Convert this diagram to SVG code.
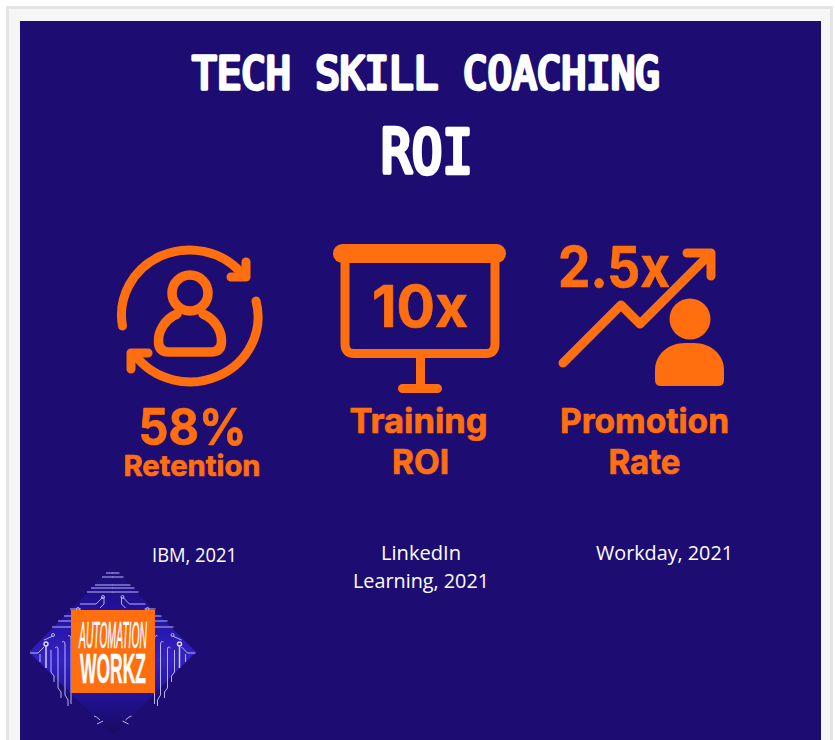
<svg xmlns="http://www.w3.org/2000/svg" width="835" height="740" viewBox="0 0 835 740">
<defs>
<linearGradient id="dia" x1="0" y1="0" x2="0" y2="1">
<stop offset="0" stop-color="#1d0d73"/>
<stop offset=".28" stop-color="#2312a0"/>
<stop offset=".55" stop-color="#3322c4"/>
<stop offset=".8" stop-color="#20108c"/>
<stop offset="1" stop-color="#190b60"/>
</linearGradient>
</defs>
<style>
.o{fill:none;stroke:#ff6f0f;stroke-linecap:round;stroke-linejoin:round}
.f{fill:#ff6f0f}
.t{font-family:"Inter","Liberation Sans",sans-serif;font-weight:700;fill:#ff6f0f;stroke:#ff6f0f;stroke-width:.7;stroke-linejoin:round;text-anchor:middle}
.h{font-family:"DejaVu Sans Mono",monospace;fill:#fff;stroke:#fff;stroke-linejoin:round;stroke-linecap:round;text-anchor:middle}
.c{font-family:"Open Sans","Liberation Sans",sans-serif;font-size:20px;fill:#fff;text-anchor:middle}
.l{fill:none;stroke:#b9b4f2;stroke-width:1}
.d{fill:none;stroke:#dcd9fb;stroke-width:1.4}
</style>
<rect width="835" height="740" fill="#fff"/>
<rect x="7.5" y="7.5" width="824" height="740" fill="#f6f6f6" stroke="#e4e4e4" stroke-width="3"/>
<rect x="20" y="21" width="801" height="719" fill="#1d0d73"/>
<g id="title">
<text class="h" x="426" y="89" font-size="44" stroke-width="3.500" textLength="468" lengthAdjust="spacingAndGlyphs">TECH SKILL COACHING</text>
<text class="h" x="427" y="173" font-size="60" stroke-width="4.500" textLength="92" lengthAdjust="spacingAndGlyphs">ROI</text>
</g>
<g id="retention">
<path class="o" stroke-width="9" d="M122.500 326A68 65 0 0 1 241 272.500"/>
<path class="o" stroke-width="9" d="M246 262V277H231"/>
<path class="o" stroke-width="9" d="M256 301A68 65 0 0 1 135 355"/>
<path class="o" stroke-width="9" d="M131 369V353H148"/>
<circle class="o" stroke-width="9.500" cx="190" cy="293" r="18"/>
<path class="o" stroke-width="9.500" d="M177 314C165 319 158 331 158.500 342Q159 352 169 352H211Q221 352 221.500 342C222 331 215 319 203 314"/>
<text class="t" x="192.500" y="445" font-size="51" textLength="108" lengthAdjust="spacingAndGlyphs">58%</text>
<text class="t" x="192" y="476" font-size="29" textLength="137" lengthAdjust="spacingAndGlyphs">Retention</text>
</g>
<g id="training">
<rect class="f" x="333" y="244" width="173" height="19" rx="9.500"/>
<path class="o" stroke-width="9" d="M345 258V344Q345 353.500 354 353.500H486Q495 353.500 495 344V258"/>
<path class="o" stroke-width="9" d="M420.500 354V388.500M402.500 388.500H437.500"/>
<text class="t" x="420" y="327" font-size="58" textLength="96" lengthAdjust="spacingAndGlyphs">10x</text>
<text class="t" x="418.500" y="433" font-size="34" textLength="138" lengthAdjust="spacingAndGlyphs">Training</text>
<text class="t" x="420.500" y="474" font-size="34" textLength="57" lengthAdjust="spacingAndGlyphs">ROI</text>
</g>
<g id="promotion">
<path class="o" stroke-width="9" d="M563 363L621 305L640 324L710 254"/>
<path class="o" stroke-width="9" d="M687 253H711V276"/>
<circle class="f" cx="690" cy="319" r="20.500"/>
<path class="f" d="M655 380V370C655 354 669 343 685 343H694C710 343 724 354 724 370V380Q724 386 718 386H661Q655 386 655 380Z"/>
<text class="t" x="614" y="287" font-size="56" textLength="112" lengthAdjust="spacingAndGlyphs">2.5x</text>
<text class="t" x="644.500" y="433" font-size="34" textLength="169" lengthAdjust="spacingAndGlyphs">Promotion</text>
<text class="t" x="644.500" y="474" font-size="34" textLength="72" lengthAdjust="spacingAndGlyphs">Rate</text>
</g>
<g id="sources">
<text class="c" x="194.500" y="562" textLength="85" lengthAdjust="spacingAndGlyphs">IBM, 2021</text>
<text class="c" x="421" y="560" textLength="80" lengthAdjust="spacingAndGlyphs">LinkedIn</text>
<text class="c" x="421" y="588" textLength="136" lengthAdjust="spacingAndGlyphs">Learning, 2021</text>
<text class="c" x="664.500" y="560" textLength="137" lengthAdjust="spacingAndGlyphs">Workday, 2021</text>
</g>
<g id="logo">
<path fill="url(#dia)" d="M112 568L196 652L113 735L29 652Z"/>
<g id="logo-half">
<path class="l" d="M106 573H113M102 577H113M95 585H113M91 588H113M87 592H113"/>
<path class="l" d="M103 597L96 604H80M81 609H70M104 597V604L100 608M64 616H72M58 621H72M52 627H72"/>
<circle class="l" cx="103" cy="597" r="1.500"/>
<circle class="l" cx="78" cy="609" r="1.500"/>
<circle class="l" cx="53" cy="635" r="1.500"/>
<path class="d" d="M46 645V668"/>
<circle class="d" cx="46" cy="644" r="2"/>
<path class="l" d="M30 653H38M38 653L44 647M53 636L44 640M40 662V654"/>
<path class="l" d="M51 650V672L54 676V682M55 648Q58 645 58 650V688L61 692V698M62 642Q65 640 65 645V695L68 700V706M68 636Q71 634 71 640V704"/>
<path class="l" d="M100 720Q96 716 94 716M97 724L103 721"/>
</g>
<use href="#logo-half" transform="translate(225.500 0) scale(-1 1)"/>
<rect x="71" y="610" width="84" height="83" fill="#ff6f0f"/>
<text x="113" y="648" font-family="Liberation Sans,sans-serif" font-style="italic" font-size="37" fill="#fff" stroke="#fff" stroke-width=".5" text-anchor="middle" textLength="68" lengthAdjust="spacingAndGlyphs">AUTOMATION</text>
<text x="113" y="683" font-family="Liberation Sans,sans-serif" font-weight="700" font-size="43" fill="#fff" stroke="#fff" stroke-width=".5" text-anchor="middle" textLength="66" lengthAdjust="spacingAndGlyphs">WORKZ</text>
</g>
</svg>
